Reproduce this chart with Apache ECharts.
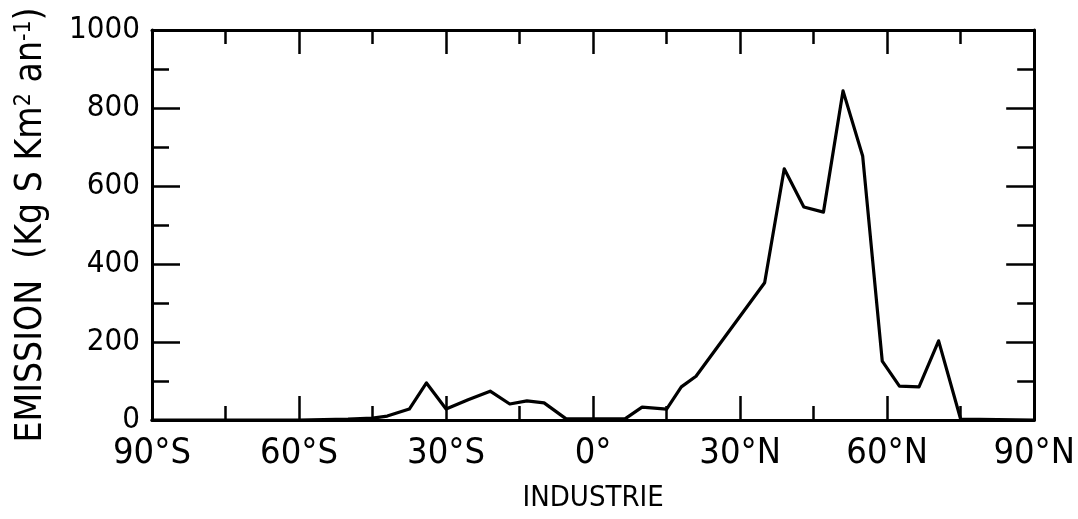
<!DOCTYPE html>
<html><head><meta charset="utf-8">
<script src="https://cdn.jsdelivr.net/npm/echarts@6/dist/echarts.min.js"></script>
<style>html,body{margin:0;padding:0;background:#fff}#c{width:1078px;height:519px}</style>
</head><body><div id="c"></div>
<script>
// Latitude (degrees, negative = south) of each point of the curve
const latitudes = [-90, -60, -50, -45, -42, -37.5, -34, -30, -25.5, -21, -17, -13.5, -10, -5.5, 0, 6.5, 10, 15, 18, 21, 35, 39, 43, 47, 51, 55, 59, 62.5, 66.5, 70.5, 75, 90];
// Emission (Kg S Km^2 an^-1)
const emissions = [0, 0, 2, 5, 10, 28, 95, 28, 52, 74, 41, 49, 44, 3, 3, 3, 33, 28, 85, 112, 352, 644, 546, 533, 844, 677, 151, 87, 85, 203, 2, 0];
// Tick labels of the latitude axis
const latTickValues = [-90, -60, -30, 0, 30, 60, 90];
const latTickLabels = ["90°S", "60°S", "30°S", "0°", "30°N", "60°N", "90°N"];
const yAxisTitle = "EMISSION  (Kg S Km{sup|2} an{sup|-1})";
const xAxisTitle = "INDUSTRIE";

const seriesData = latitudes.map((v, i) => [v, emissions[i]]);
const font = "DejaVu Sans Condensed";

const commonX = {
  type: 'value', min: -90, max: 90, interval: 30,
  axisLine: { show: true, onZero: false, lineStyle: { color: '#000', width: 3 } },
  axisTick: { show: true, inside: true, length: 24, lineStyle: { color: '#000', width: 2.5 } },
  minorTick: { show: true, splitNumber: 2, length: 14, lineStyle: { color: '#000', width: 2.5 } },
  splitLine: { show: false }
};
const commonY = {
  type: 'value', min: 0, max: 1000, interval: 200,
  axisLine: { show: true, onZero: false, lineStyle: { color: '#000', width: 3 } },
  axisTick: { show: true, inside: true, length: 28, lineStyle: { color: '#000', width: 2.5 } },
  minorTick: { show: true, splitNumber: 2, length: 17, lineStyle: { color: '#000', width: 2.5 } },
  splitLine: { show: false }
};

const chart = echarts.init(document.getElementById('c'), null, { renderer: 'canvas' });
chart.setOption({
  animation: false,
  backgroundColor: '#fff',
  grid: { left: 152, right: 41, top: 30, bottom: 99, containLabel: false },
  xAxis: [
    Object.assign({}, commonX, {
      position: 'bottom',
      axisLabel: {
        show: true, margin: 16, color: '#000', fontFamily: font, fontSize: 36,
        formatter: v => { const i = latTickValues.indexOf(v); return i >= 0 ? latTickLabels[i] : ''; }
      },
      name: xAxisTitle, nameLocation: 'middle', nameGap: 64,
      nameTextStyle: { color: '#000', fontFamily: font, fontSize: 29 }
    }),
    Object.assign({}, commonX, { position: 'top', axisLabel: { show: false } })
  ],
  yAxis: [
    Object.assign({}, commonY, {
      position: 'left',
      axisLabel: { show: true, margin: 12, color: '#000', fontFamily: font, fontSize: 31, formatter: v => String(v) },
      name: yAxisTitle, nameLocation: 'middle', nameGap: 102, nameRotate: 90,
      nameTextStyle: {
        color: '#000', fontFamily: font, fontSize: 37,
        rich: { sup: { fontFamily: font, fontSize: 23, verticalAlign: 'top', color: '#000' } }
      }
    }),
    Object.assign({}, commonY, { position: 'right', axisLabel: { show: false } })
  ],
  series: [{
    type: 'line', xAxisIndex: 0, yAxisIndex: 0, data: seriesData,
    symbol: 'none', lineStyle: { color: '#000', width: 3.2, join: 'round', cap: 'round' },
    z: 3
  }]
});
</script></body></html>
